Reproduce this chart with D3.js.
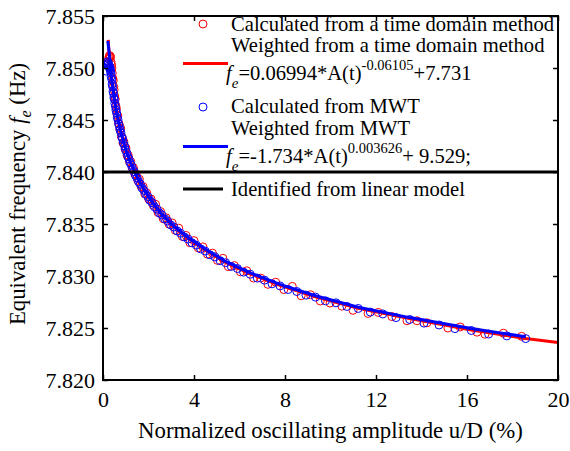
<!DOCTYPE html>
<html>
<head>
<meta charset="utf-8">
<script src="https://cdn.jsdelivr.net/npm/d3@7"></script>
<style>
  body { margin: 0; background: #fff; }
  text { font-family: "Liberation Serif", "Times New Roman", serif; fill: #000; }
</style>
</head>
<body>
<div id="chart"></div>
<script>
// ---- data ----
// amplitude u/D (%) and frequency (Hz), time domain method (red circles)
var timeAmp = [0.22, 0.25, 0.27, 0.29, 0.31, 0.33, 0.35, 0.37, 0.39, 0.41, 0.43, 0.45, 0.47, 0.49, 0.51, 0.54, 0.56, 0.59, 0.62, 0.65,
  0.68, 0.71, 0.74, 0.77, 0.81, 0.85, 0.88, 0.92, 0.97, 1.01, 1.06, 1.11, 1.16, 1.22, 1.28, 1.34, 1.40, 1.46, 1.53, 1.60,
  1.68, 1.76, 1.84, 1.92, 2.01, 2.11, 2.21, 2.31, 2.42, 2.53, 2.65, 2.77, 2.90, 3.04, 3.18, 3.33, 3.49, 3.65, 3.82, 4.00,
  4.19, 4.39, 4.59, 4.81, 5.03, 5.27, 5.51, 5.77, 6.04, 6.32, 6.62, 6.93, 7.25, 7.59, 7.95, 8.32, 8.71, 9.12, 9.55, 9.98,
  10.50, 10.99, 11.65, 12.10, 12.70, 13.36, 13.80, 14.24, 15.16, 15.70, 16.44, 16.79, 17.60, 18.40];
var timeFreq = [7.8506, 7.8509, 7.8511, 7.8512, 7.8510, 7.8511, 7.8506, 7.8503, 7.8500, 7.8495, 7.8490, 7.8488, 7.8482, 7.8479, 7.8473, 7.8470, 7.8464, 7.8461, 7.8455, 7.8454,
  7.8447, 7.8446, 7.8441, 7.8442, 7.8434, 7.8433, 7.8428, 7.8429, 7.8422, 7.8423, 7.8416, 7.8416, 7.8410, 7.8410, 7.8404, 7.8404, 7.8398, 7.8398, 7.8392, 7.8393,
  7.8386, 7.8386, 7.8379, 7.8380, 7.8374, 7.8374, 7.8368, 7.8369, 7.8361, 7.8362, 7.8355, 7.8356, 7.8350, 7.8351, 7.8344, 7.8346, 7.8338, 7.8339, 7.8332, 7.8334,
  7.8327, 7.8328, 7.8321, 7.8322, 7.8315, 7.8317, 7.8309, 7.8310, 7.8304, 7.8305, 7.8298, 7.8298, 7.8292, 7.8294, 7.8287, 7.8290, 7.8281, 7.8282, 7.8276, 7.8274,
  7.8271, 7.8267, 7.8264, 7.8265, 7.8261, 7.8257, 7.8257, 7.8255, 7.8250, 7.8251, 7.8246, 7.8244, 7.8245, 7.8242];

// MWT (blue circles)
var mwtAmp = [0.13, 0.17, 0.20, 0.22, 0.24, 0.26, 0.28, 0.30, 0.32, 0.33, 0.35, 0.36, 0.38, 0.40, 0.42, 0.44, 0.46, 0.48, 0.50, 0.52,
  0.55, 0.57, 0.60, 0.63, 0.66, 0.69, 0.72, 0.75, 0.79, 0.83, 0.86, 0.90, 0.95, 0.99, 1.04, 1.09, 1.14, 1.19, 1.25, 1.31,
  1.37, 1.43, 1.50, 1.57, 1.64, 1.72, 1.80, 1.88, 1.97, 2.06, 2.16, 2.26, 2.37, 2.48, 2.59, 2.71, 2.84, 2.97, 3.11, 3.26,
  3.41, 3.57, 3.74, 3.91, 4.10, 4.29, 4.49, 4.70, 4.92, 5.15, 5.39, 5.64, 5.91, 6.18, 6.47, 6.78, 7.10, 7.43, 7.78, 8.14,
  8.52, 8.92, 9.34, 9.78, 10.24, 10.72, 11.22, 11.75, 12.30, 12.88, 13.48, 14.11, 14.77, 15.47, 16.19, 16.95, 17.75, 18.58];
var mwtFreq = [7.8497, 7.8503, 7.8506, 7.8503, 7.8505, 7.8502, 7.8500, 7.8501, 7.8499, 7.8497, 7.84950, 7.84920, 7.84893, 7.84846, 7.84822, 7.84775, 7.84756, 7.84716, 7.84698, 7.84660,
  7.84628, 7.84595, 7.84568, 7.84524, 7.84502, 7.84461, 7.84440, 7.84404, 7.84376, 7.84334, 7.84318, 7.84279, 7.84249, 7.84213, 7.84188, 7.84148, 7.84126, 7.84089, 7.84065, 7.84025,
  7.84003, 7.83966, 7.83942, 7.83905, 7.83884, 7.83845, 7.83823, 7.83786, 7.83764, 7.83727, 7.83704, 7.83666, 7.83644, 7.83607, 7.83587, 7.83550, 7.83529, 7.83492, 7.83471, 7.83433,
  7.83412, 7.83376, 7.83355, 7.83319, 7.83297, 7.83261, 7.83240, 7.83204, 7.83183, 7.83147, 7.83128, 7.83092, 7.83072, 7.83037, 7.83017, 7.82980, 7.82960, 7.82925, 7.82905, 7.82870,
  7.82851, 7.82816, 7.82797, 7.82761, 7.82742, 7.82707, 7.82688, 7.82653, 7.82635, 7.82600, 7.82582, 7.82547, 7.82529, 7.82494, 7.82476, 7.82442, 7.82424, 7.82398];

// weighted fit curves, sampled along the drawn lines
var timeFitAmp = [0.23, 0.26, 0.30, 0.35, 0.40, 0.50, 0.60, 0.75, 0.90, 1.04, 1.25, 1.50, 1.80, 2.16, 2.59, 3.11, 3.74, 4.49, 5.39, 6.47, 7.78, 9.34, 11.22, 13.48, 16.19, 18.58, 20.0];
var timeFitFreq = [7.8527, 7.8517, 7.8507, 7.8496, 7.8486, 7.8470, 7.8457, 7.8442, 7.8429, 7.8419, 7.8407, 7.8395, 7.8383, 7.8371, 7.8359, 7.8348, 7.8336, 7.8325, 7.8313, 7.8302, 7.8291, 7.8280, 7.8269, 7.8259, 7.8248, 7.8240, 7.8236];
var mwtFitAmp = [0.21, 0.26, 0.30, 0.35, 0.40, 0.50, 0.60, 0.75, 0.90, 1.04, 1.25, 1.50, 1.80, 2.16, 2.59, 3.11, 3.74, 4.49, 5.39, 6.47, 7.78, 9.34, 11.22, 13.48, 16.19, 18.58];
var mwtFitFreq = [7.8526, 7.8517, 7.8507, 7.8496, 7.8486, 7.8470, 7.8457, 7.8442, 7.8429, 7.8419, 7.8407, 7.8395, 7.8383, 7.8371, 7.8359, 7.8348, 7.8337, 7.8326, 7.8314, 7.8303, 7.8292, 7.8281, 7.8270, 7.8260, 7.82495, 7.82415];

var linearFreq = 7.840;

var xTicks = [0, 4, 8, 12, 16, 20];
var yTicks = [7.820, 7.825, 7.830, 7.835, 7.840, 7.845, 7.850, 7.855];

// ---- layout ----
var svgWidth = 570, svgHeight = 451;
var margin = {top: 16, right: 12, bottom: 71, left: 103},
    width = svgWidth - margin.left - margin.right,
    height = svgHeight - margin.top - margin.bottom;

var svg = d3.select("#chart")
  .append("svg")
    .attr("width", svgWidth)
    .attr("height", svgHeight)
  .append("g")
    .attr("transform", "translate(" + margin.left + "," + margin.top + ")");

var x = d3.scaleLinear().domain([0, 20]).range([0, width]);
var y = d3.scaleLinear().domain([7.820, 7.855]).range([height, 0]);

svg.append("defs").append("clipPath").attr("id", "clip")
  .append("rect").attr("width", width).attr("height", height);

var plot = svg.append("g").attr("clip-path", "url(#clip)");

function zip(a, b) { return a.map(function(v, i) { return [v, b[i]]; }); }
var line = d3.line().x(d => x(d[0])).y(d => y(d[1]));

// red circles then red fit
plot.append("g").selectAll("circle")
  .data(zip(timeAmp, timeFreq))
  .join("circle")
    .attr("cx", d => x(d[0]))
    .attr("cy", d => y(d[1]))
    .attr("r", 4)
    .attr("fill", "none")
    .attr("stroke", "#ff0000")
    .attr("stroke-width", 1);

plot.append("path")
  .datum(zip(timeFitAmp, timeFitFreq))
  .attr("d", line)
  .attr("fill", "none")
  .attr("stroke", "#ff0000")
  .attr("stroke-width", 3);

// blue circles then blue fit
plot.append("g").selectAll("circle")
  .data(zip(mwtAmp, mwtFreq))
  .join("circle")
    .attr("cx", d => x(d[0]))
    .attr("cy", d => y(d[1]))
    .attr("r", 4)
    .attr("fill", "none")
    .attr("stroke", "#0000ff")
    .attr("stroke-width", 1);

plot.append("path")
  .datum(zip(mwtFitAmp, mwtFitFreq))
  .attr("d", line)
  .attr("fill", "none")
  .attr("stroke", "#0000ff")
  .attr("stroke-width", 3);

// axes with inward ticks on all four sides
var tickSize = 5;
var tickFont = "22px";

var axBottom = svg.append("g")
  .attr("transform", "translate(0," + height + ")")
  .call(d3.axisBottom(x).tickValues(xTicks).tickSize(-tickSize).tickPadding(11).tickFormat(d3.format("d")));
var axLeft = svg.append("g")
  .call(d3.axisLeft(y).tickValues(yTicks).tickSize(-tickSize).tickPadding(8).tickFormat(d3.format(".3f")));
var axTop = svg.append("g")
  .call(d3.axisTop(x).tickValues(xTicks).tickSize(-tickSize).tickFormat(""));
var axRight = svg.append("g")
  .attr("transform", "translate(" + width + ",0)")
  .call(d3.axisRight(y).tickValues(yTicks).tickSize(-tickSize).tickFormat(""));

[axBottom, axLeft, axTop, axRight].forEach(function(g) {
  g.select(".domain").remove();
  g.selectAll(".tick line").attr("stroke", "#000").attr("stroke-width", 1.5);
  g.selectAll(".tick text").style("font-size", tickFont).style("font-family", "Liberation Serif");
});

// frame
svg.append("rect")
  .attr("width", width).attr("height", height)
  .attr("fill", "none").attr("stroke", "#000").attr("stroke-width", 2);

// identified from linear model
svg.append("line")
  .attr("x1", 0).attr("x2", width)
  .attr("y1", y(linearFreq)).attr("y2", y(linearFreq))
  .attr("stroke", "#000").attr("stroke-width", 3);

// axis titles
svg.append("text")
  .attr("x", width / 2)
  .attr("y", height + 58)
  .attr("text-anchor", "middle")
  .style("font-size", "22.8px")
  .text("Normalized oscillating amplitude u/D (%)");

var ylab = svg.append("text")
  .attr("transform", "translate(" + (-78) + "," + (height / 2 - 4) + ") rotate(-90)")
  .attr("text-anchor", "middle")
  .style("font-size", "22.8px");
ylab.append("tspan").text("Equivalent frequency ");
ylab.append("tspan").style("font-style", "italic").text("f");
ylab.append("tspan").attr("dy", 6).style("font-size", "16px").style("font-style", "italic").text("e");
ylab.append("tspan").attr("dy", -6).text(" (Hz)");

// legend
var lg = svg.append("g").attr("transform", "translate(" + (-margin.left) + "," + (-margin.top) + ")");
var textX = 231;
var legendFont = "20.6px";

function legendText(yPos, str) {
  return lg.append("text").attr("x", textX).attr("y", yPos).style("font-size", legendFont).text(str);
}
function formulaText(yPos, pre, sup, post) {
  var t = lg.append("text").attr("x", textX - 5).attr("y", yPos).style("font-size", legendFont);
  t.append("tspan").style("font-style", "italic").text("f");
  t.append("tspan").attr("dy", 8).style("font-size", "15px").style("font-style", "italic").text("e");
  t.append("tspan").attr("dy", -8).text(pre);
  t.append("tspan").attr("dy", -10).style("font-size", "14.5px").text(sup);
  t.append("tspan").attr("dy", 10).text(post);
}

lg.append("circle").attr("cx", 203).attr("cy", 24).attr("r", 4)
  .attr("fill", "none").attr("stroke", "#ff0000").attr("stroke-width", 1);
legendText(31, "Calculated from a time domain method");
legendText(52, "Weighted from a time domain method");
lg.append("line").attr("x1", 183).attr("x2", 228).attr("y1", 63.5).attr("y2", 63.5)
  .attr("stroke", "#ff0000").attr("stroke-width", 3);
formulaText(80, "=0.06994*A(t)", "-0.06105", "+7.731");

lg.append("circle").attr("cx", 203).attr("cy", 107).attr("r", 4)
  .attr("fill", "none").attr("stroke", "#0000ff").attr("stroke-width", 1);
legendText(113, "Calculated from MWT");
legendText(135, "Weighted from MWT");
lg.append("line").attr("x1", 183).attr("x2", 228).attr("y1", 146.5).attr("y2", 146.5)
  .attr("stroke", "#0000ff").attr("stroke-width", 3);
formulaText(163, "=-1.734*A(t)", "0.003626", "+ 9.529;");

lg.append("line").attr("x1", 183).attr("x2", 223).attr("y1", 189).attr("y2", 189)
  .attr("stroke", "#000").attr("stroke-width", 3);
legendText(196, "Identified from linear model");
</script>
</body>
</html>
